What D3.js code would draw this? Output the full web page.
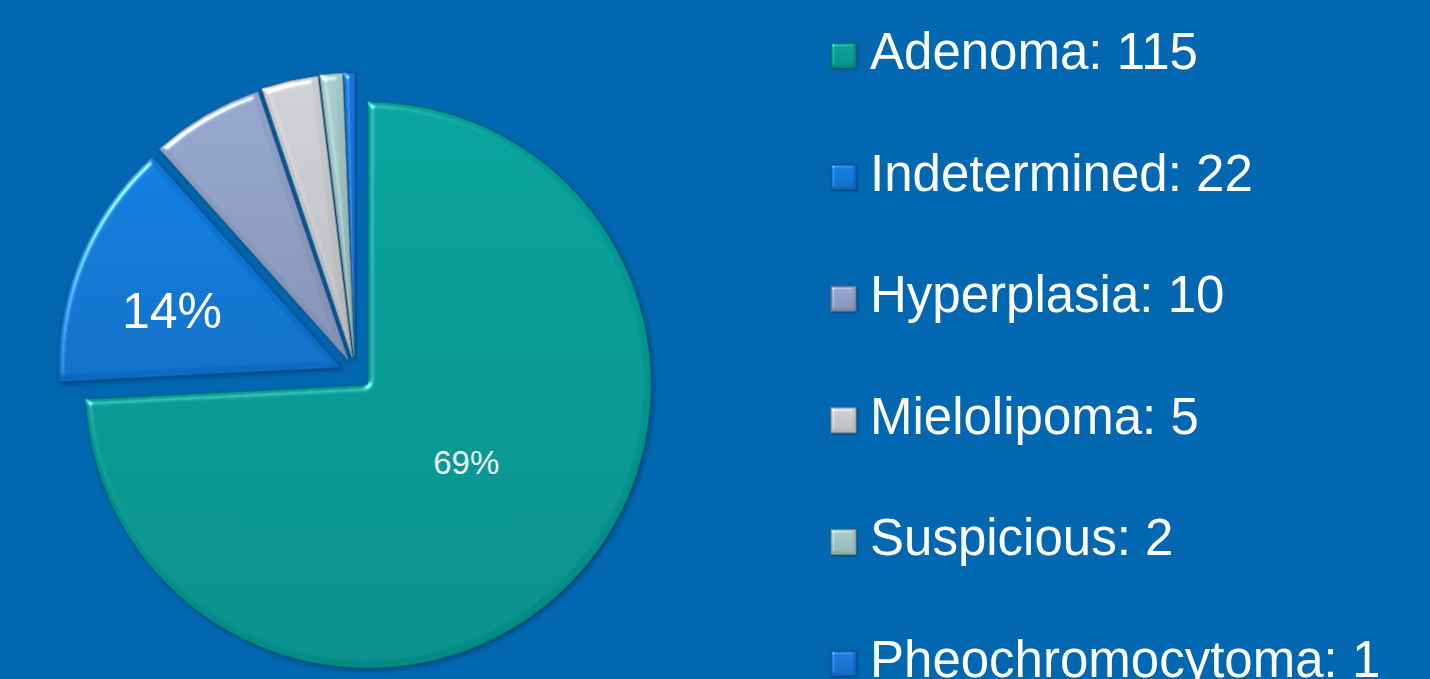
<!DOCTYPE html>
<html>
<head>
<meta charset="utf-8">
<script src="https://cdn.jsdelivr.net/npm/d3@7"></script>
<style>
  body { margin: 0; background: #0067b0; overflow: hidden; }
  svg { display: block; }
</style>
</head>
<body>
<script>
const categories = ["Adenoma", "Indetermined", "Hyperplasia", "Mielolipoma", "Suspicious", "Pheochromocytoma"];
const counts = [115, 22, 10, 5, 2, 1];
const percentLabels = ["69%", "14%", "", "", "", ""];
const sliceColors = ["#039791", "#0c74d2", "#8a9bc0", "#c4c5c9", "#9cbebe", "#1670d2"];

const width = 1430;
const height = 679;
const radius = 283;
const cx = 368;
const cy = 385;
const explode = 32;

const svg = d3.select("body").append("svg")
    .attr("width", width)
    .attr("height", height);

svg.append("rect")
    .attr("width", width).attr("height", height)
    .attr("fill", "#0067b0");

const defs = svg.append("defs");

// bevel + soft shadow, like the office chart
function bevelFilter(id, blur, scale, shadow) {
    const f = defs.append("filter").attr("id", id)
        .attr("color-interpolation-filters", "sRGB")
        .attr("x", "-10%").attr("y", "-10%").attr("width", "120%").attr("height", "120%");
    f.append("feGaussianBlur").attr("in", "SourceAlpha").attr("stdDeviation", blur).attr("result", "blur");
    const spec = f.append("feSpecularLighting").attr("in", "blur")
        .attr("surfaceScale", scale).attr("specularConstant", 0.6)
        .attr("specularExponent", 30).attr("lighting-color", "#ffffff").attr("result", "spec");
    spec.append("feDistantLight").attr("azimuth", 225).attr("elevation", 40);
    f.append("feComposite").attr("in", "spec").attr("in2", "SourceAlpha").attr("operator", "in").attr("result", "specIn");
    f.append("feComposite").attr("in", "SourceGraphic").attr("in2", "specIn")
        .attr("operator", "arithmetic").attr("k1", 0).attr("k2", 1).attr("k3", 1).attr("k4", 0)
        .attr("result", "lit");
    f.append("feOffset").attr("in", "SourceAlpha").attr("dx", shadow).attr("dy", shadow).attr("result", "off");
    f.append("feGaussianBlur").attr("in", "off").attr("stdDeviation", shadow).attr("result", "offBlur");
    f.append("feFlood").attr("flood-color", "#002a55").attr("flood-opacity", 0.55);
    f.append("feComposite").attr("in2", "offBlur").attr("operator", "in").attr("result", "shadow");
    const m = f.append("feMerge");
    m.append("feMergeNode").attr("in", "shadow");
    m.append("feMergeNode").attr("in", "lit");
}
bevelFilter("bevel", 3, 4, 2);
bevelFilter("bevelSmall", 1.5, 3, 1);

sliceColors.forEach((c, i) => {
    const g = defs.append("linearGradient").attr("id", "grad" + i)
        .attr("x1", 0).attr("y1", 0).attr("x2", 0).attr("y2", 1);
    g.append("stop").attr("offset", "0%").attr("stop-color", d3.color(c).brighter(0.1));
    g.append("stop").attr("offset", "100%").attr("stop-color", d3.color(c).darker(0.25));
});

const pie = d3.pie().sort(null).value(d => d);
const arcs = pie(counts);
const arc = d3.arc().innerRadius(0).outerRadius(radius);

// the pulled-out slices move half along their own bisector, half along the group's
const groupMid = (arcs[1].startAngle + arcs[arcs.length - 1].endAngle) / 2;

const pieG = svg.append("g").attr("transform", `translate(${cx},${cy})`);

const slices = pieG.selectAll("g.slice")
    .data(arcs)
    .join("g")
    .attr("class", "slice")
    .attr("transform", (d, i) => {
        if (i === 0) return null;
        const mid = ((d.startAngle + d.endAngle) / 2 + groupMid) / 2;
        return `translate(${explode * Math.sin(mid)},${-explode * Math.cos(mid)})`;
    });

slices.append("path")
    .attr("d", arc)
    .attr("fill", (d, i) => `url(#grad${i})`)
    .attr("stroke", (d, i) => d3.color(sliceColors[i]).darker(0.8))
    .attr("stroke-width", 1)
    .attr("filter", "url(#bevel)");

// percent labels
slices.append("text")
    .attr("transform", (d, i) => {
        const r = i === 0 ? radius * 0.88 : radius * 1.25;
        const c = d3.arc().innerRadius(0).outerRadius(r).centroid(d);
        return i === 0 ? `translate(${c[0] + 8},${c[1] - 8})` : `translate(${c[0] - 6},${c[1] + 12})`;
    })
    .attr("text-anchor", "middle")
    .attr("dominant-baseline", "central")
    .style("font-family", "Arial, 'Liberation Sans', sans-serif")
    .style("font-size", (d, i) => i === 0 ? "33px" : "50px")
    .attr("fill", (d, i) => i === 0 ? "#e6f2f2" : "#ffffff")
    .text((d, i) => percentLabels[i]);

// legend
const legend = svg.append("g").attr("transform", "translate(831,69)");
const rowGap = 121.6;

const rows = legend.selectAll("g.row")
    .data(categories)
    .join("g")
    .attr("class", "row")
    .attr("transform", (d, i) => `translate(0,${i * rowGap})`);

rows.append("rect")
    .attr("x", 0).attr("y", -26)
    .attr("width", 25).attr("height", 25)
    .attr("fill", (d, i) => `url(#grad${i})`)
    .attr("stroke", (d, i) => d3.color(sliceColors[i]).darker(1))
    .attr("stroke-width", 1)
    .attr("filter", "url(#bevelSmall)");

rows.append("text")
    .attr("x", 39)
    .attr("y", 0)
    .style("font-family", "Arial, 'Liberation Sans', sans-serif")
    .style("font-size", "51px")
    .attr("fill", "#ffffff")
    .text((d, i) => `${d}: ${counts[i]}`);
</script>
</body>
</html>
